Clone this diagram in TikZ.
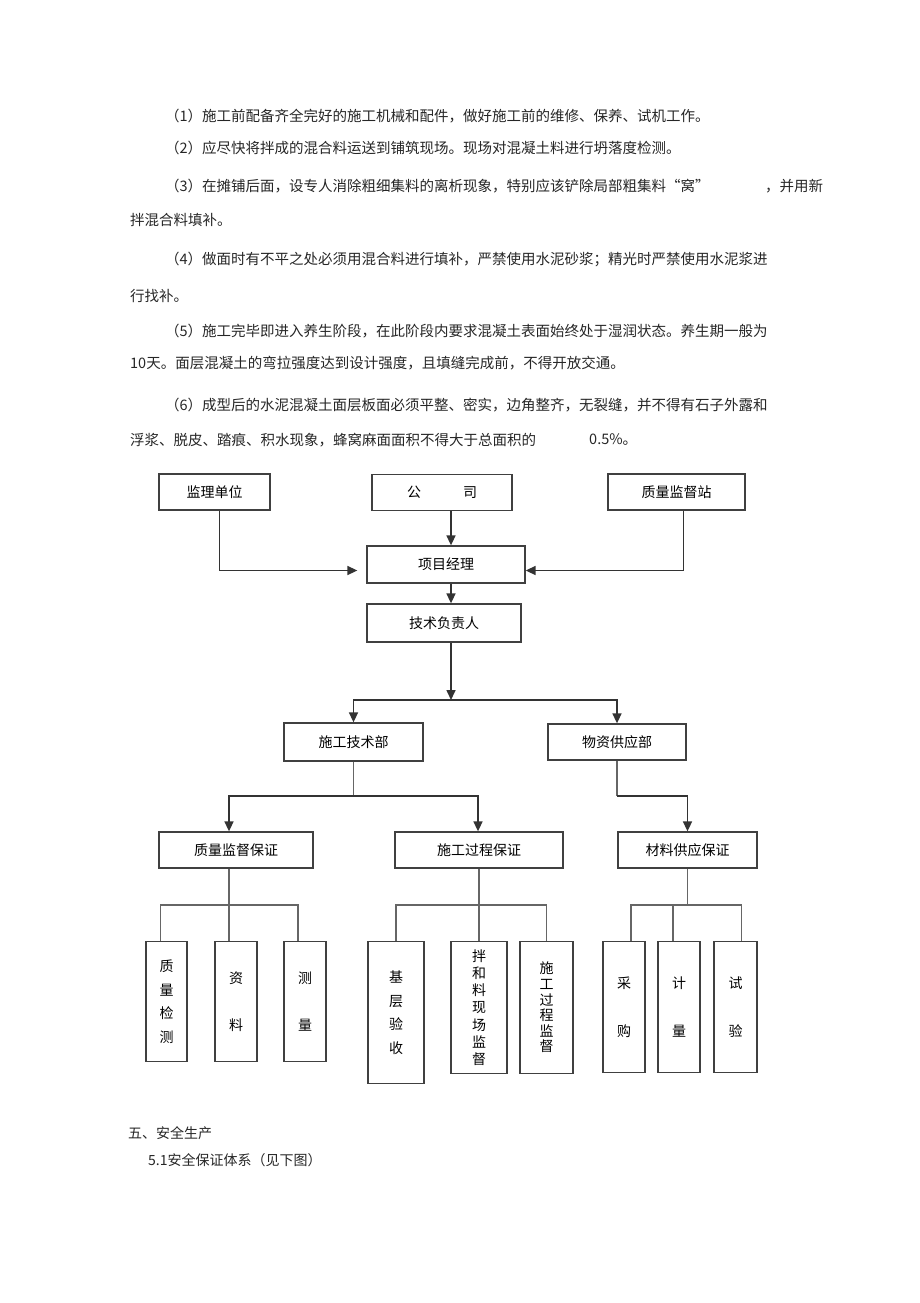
\documentclass[tikz,border=0pt]{standalone}
\usepackage{fontspec}
\setmainfont{Noto Sans CJK SC}
\usepackage{tikz}
\usetikzlibrary{arrows.meta, positioning, calc}
\XeTeXlinebreaklocale "zh"
\XeTeXlinebreakskip = 0pt plus 2pt minus 0.6pt

\begin{document}
\begin{tikzpicture}[x=1pt, y=-1pt,
    box/.style={rectangle, draw=black!75, line width=1.3pt, minimum height=36pt, inner sep=0pt, font=\fontsize{14}{16}\selectfont},
    leaf/.style={rectangle, draw=black!75, line width=1.3pt, anchor=north, inner sep=0pt, align=center},
    arrow/.style={-{Triangle[length=10pt, width=9pt]}, line width=1.6pt, black!80},
    link/.style={line width=1.5pt, black!60},
    para/.style={anchor=west, inner sep=0pt, text=black!85, font=\fontsize{14.5}{17}\selectfont}
]
\useasboundingbox (0,0) rectangle (920,1303);

% Text above
\node[para] (p1) at (165,116) {（1）施工前配备齐全完好的施工机械和配件，做好施工前的维修、保养、试机工作。};
\node[para] (p2) at (165,148) {（2）应尽快将拌成的混合料运送到铺筑现场。现场对混凝土料进行坍落度检测。};
\node[para] (p3) at (165,186) {（3）在摊铺后面，设专人消除粗细集料的离析现象，特别应该铲除局部粗集料“窝”};
\node[para] (p3b) at (765,186) {，并用新};
\node[para] (p3c) at (130,220) {拌混合料填补。};
\node[para] (p4) at (165,259) {\hbox to 610pt{（4）做面时有不平之处必须用混合料进行填补，严禁使用水泥砂浆；精光时严禁使用水泥浆进}};
\node[para] (p4b) at (130,296) {行找补。};
\node[para] (p5) at (165,331) {\hbox to 610pt{（5）施工完毕即进入养生阶段，在此阶段内要求混凝土表面始终处于湿润状态。养生期一般为}};
\node[para] (p5b) at (130,363) {10天。面层混凝土的弯拉强度达到设计强度，且填缝完成前，不得开放交通。};
\node[para] (p6) at (165,405) {\hbox to 610pt{（6）成型后的水泥混凝土面层板面必须平整、密实，边角整齐，无裂缝，并不得有石子外露和}};
\node[para] (p6b) at (130,440) {浮浆、脱皮、踏痕、积水现象，蜂窝麻面面积不得大于总面积的};
\node[para] (p6c) at (589,440) {0.5\%。};

% Top row
\node[box, minimum width=111pt] (supervisor) at (214.5,492) {监理单位};
\node[box, minimum width=140pt] (company) at (442,492.5) {公\hspace{42pt}司};
\node[box, minimum width=137pt] (qstation) at (676.5,492) {质量监督站};

% Management
\node[box, minimum width=158pt, minimum height=37pt] (manager) at (446,564.5) {项目经理};
\node[box, minimum width=154pt, minimum height=38pt] (techlead) at (444,623) {技术负责人};

% Departments
\node[box, minimum width=139pt, minimum height=38pt] (techdept) at (353.5,742) {施工技术部};
\node[box, minimum width=138pt] (supplydept) at (617,742) {物资供应部};

% Assurance
\node[box, minimum width=154pt] (qassure) at (236,850) {质量监督保证};
\node[box, minimum width=168pt] (procassure) at (479,850) {施工过程保证};
\node[box, minimum width=139pt] (matassure) at (687.5,850) {材料供应保证};

% Leaves
\node[leaf, minimum width=41pt, minimum height=120pt, font=\fontsize{14}{23.5}\selectfont] (qtest) at (166.5,941) {质\\量\\检\\测};
\node[leaf, minimum width=42pt, minimum height=120pt, font=\fontsize{14}{47}\selectfont] (records) at (236,941) {资\\料};
\node[leaf, minimum width=42pt, minimum height=120pt, font=\fontsize{14}{47}\selectfont] (survey) at (305,941) {测\\量};
\node[leaf, minimum width=56pt, minimum height=142pt, font=\fontsize{14}{23.7}\selectfont] (baseacc) at (396,941) {基\\层\\验\\收};
\node[leaf, minimum width=56pt, minimum height=132pt, font=\fontsize{14}{17.2}\selectfont] (mixsite) at (479,941) {拌\\和\\料\\现\\场\\监\\督};
\node[leaf, minimum width=53pt, minimum height=132pt, font=\fontsize{14}{15.6}\selectfont] (procsup) at (546.5,941) {施\\工\\过\\程\\监\\督};
\node[leaf, minimum width=42pt, minimum height=131pt, font=\fontsize{14}{48}\selectfont] (purchase) at (624,941) {采\\购};
\node[leaf, minimum width=42pt, minimum height=131pt, font=\fontsize{14}{48}\selectfont] (metering) at (679,941) {计\\量};
\node[leaf, minimum width=43pt, minimum height=131pt, font=\fontsize{14}{48}\selectfont] (testing) at (735.5,941) {试\\验};

% Junctions
\coordinate (split1) at (451,700);
\coordinate (split2) at (353.5,796);
\coordinate (split3) at (617,796);
\coordinate (j1) at (229,905);
\coordinate (j2) at (479,905);
\coordinate (j3) at (687.5,905);

% Arrows to manager
\draw[arrow] ([xshift=9pt]company.south) -- ([xshift=9pt]company.south |- manager.north);
\draw[arrow, shorten >=9pt] ([xshift=5pt]supervisor.south) |- ([yshift=-6pt]manager.west);
\draw[arrow] ([xshift=7pt]qstation.south) |- ([yshift=-6pt]manager.east);
\draw[arrow] ([xshift=5pt]manager.south) -- ([xshift=5pt]manager.south |- techlead.north);

% Arrows to departments
\draw[arrow] ([xshift=7pt]techlead.south) -- (split1);
\draw[arrow] (split1) -| (techdept.north);
\draw[arrow] (split1) -| (supplydept.north);

% Arrows to assurance
\draw[link] (techdept.south) -- (split2);
\draw[arrow] (split2) -| ([xshift=-7pt]qassure.north);
\draw[arrow] (split2) -| ([xshift=-1pt]procassure.north);
\draw[link] (supplydept.south) -- (split3);
\draw[arrow] (split3) -| (matassure.north);

% Lines to leaves
\draw[link] ([xshift=-7pt]qassure.south) -- ([xshift=-7pt]qassure.south |- records.north);
\draw[link] ([xshift=-6pt]qtest.north) |- (j1) -| ([xshift=-7pt]survey.north);
\draw[link] (procassure.south) -- (mixsite.north);
\draw[link] (baseacc.north) |- (j2) -| (procsup.north);
\draw[link] (matassure.south) -- (j3);
\draw[link] ([xshift=7pt]purchase.north) |- (j3) -| ([xshift=6pt]testing.north);
\draw[link] ([xshift=-6pt]metering.north) -- ([xshift=-6pt]metering.north |- j3);

% Text below
\node[para, font=\fontsize{14}{16}\selectfont] (sec5) at (128,1133) {五、安全生产};
\node[para, font=\fontsize{14}{16}\selectfont] (sec51) at (148,1160) {5.1安全保证体系（见下图）};
\end{tikzpicture}
\end{document}
